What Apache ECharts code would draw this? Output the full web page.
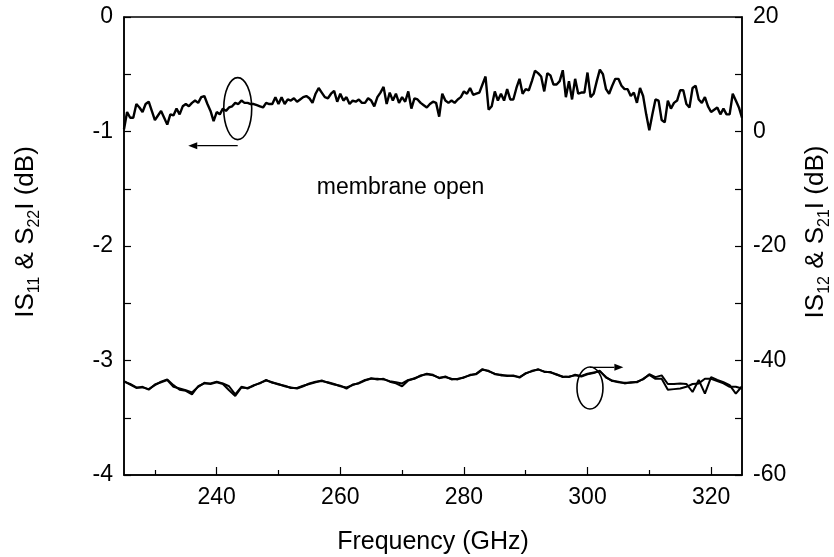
<!DOCTYPE html>
<html>
<head>
<meta charset="utf-8">
<script src="https://cdn.jsdelivr.net/npm/echarts@6/dist/echarts.min.js"></script>
<style>
  html, body { margin: 0; padding: 0; background: #fff; }
  #chart { width: 834px; height: 557px; }
</style>
</head>
<body>
<div id="chart"></div>
<script>
  // frequency grids (GHz)
  var freqFine = [
    225,225.5,226,226.5,227,227.5,228,228.5,229,229.5,
    230,230.5,231,231.5,232,232.5,233,233.5,234,234.5,
    235,235.5,236,236.5,237,237.5,238,238.5,239,239.5,
    240,240.5,241,241.5,242,242.5,243,243.5,244,244.5,
    245,245.5,246,246.5,247,247.5,248,248.5,249,249.5,
    250,250.5,251,251.5,252,252.5,253,253.5,254,254.5,
    255,255.5,256,256.5,257,257.5,258,258.5,259,259.5,
    260,260.5,261,261.5,262,262.5,263,263.5,264,264.5,
    265,265.5,266,266.5,267,267.5,268,268.5,269,269.5,
    270,270.5,271,271.5,272,272.5,273,273.5,274,274.5,
    275,275.5,276,276.5,277,277.5,278,278.5,279,279.5,
    280,280.5,281,281.5,282,282.5,283,283.5,284,284.5,
    285,285.5,286,286.5,287,287.5,288,288.5,289,289.5,
    290,290.5,291,291.5,292,292.5,293,293.5,294,294.5,
    295,295.5,296,296.5,297,297.5,298,298.5,299,299.5,
    300,300.5,301,301.5,302,302.5,303,303.5,304,304.5,
    305,305.5,306,306.5,307,307.5,308,308.5,309,309.5,
    310,310.5,311,311.5,312,312.5,313,313.5,314,314.5,
    315,315.5,316,316.5,317,317.5,318,318.5,319,319.5,
    320,320.5,321,321.5,322,322.5,323,323.5,324,324.5,
    325
  ];
  var freqCoarse = [
    225,226,227,228,229,230,231,232,233,234,
    235,236,237,238,239,240,241,242,243,244,
    245,246,247,248,249,250,251,252,253,254,
    255,256,257,258,259,260,261,262,263,264,
    265,266,267,268,269,270,271,272,273,274,
    275,276,277,278,279,280,281,282,283,284,
    285,286,287,288,289,290,291,292,293,294,
    295,296,297,298,299,300,301,302,303,304,
    305,306,307,308,309,310,311,312,313,314,
    315,316,317,318,319,320,321,322,323,324,
    325
  ];

  // |S11| & |S22| (dB), left axis
  var s11 = [
    -0.98,-0.83,-0.88,-0.88,-0.76,-0.79,-0.83,-0.76,-0.74,-0.82,
    -0.90,-0.86,-0.82,-0.88,-0.94,-0.85,-0.86,-0.80,-0.85,-0.78,
    -0.76,-0.78,-0.75,-0.73,-0.75,-0.70,-0.69,-0.76,-0.82,-0.91,
    -0.83,-0.85,-0.80,-0.82,-0.79,-0.78,-0.75,-0.76,-0.73,-0.75,
    -0.75,-0.76,-0.76,-0.77,-0.78,-0.79,-0.75,-0.76,-0.76,-0.70,
    -0.76,-0.70,-0.76,-0.72,-0.73,-0.71,-0.74,-0.72,-0.70,-0.69,
    -0.71,-0.75,-0.67,-0.62,-0.66,-0.70,-0.71,-0.67,-0.645,-0.74,
    -0.67,-0.73,-0.70,-0.76,-0.73,-0.74,-0.72,-0.75,-0.75,-0.71,
    -0.73,-0.78,-0.70,-0.66,-0.61,-0.76,-0.66,-0.73,-0.67,-0.75,
    -0.70,-0.74,-0.65,-0.80,-0.71,-0.72,-0.75,-0.77,-0.79,-0.76,
    -0.74,-0.75,-0.87,-0.67,-0.73,-0.75,-0.73,-0.75,-0.72,-0.70,
    -0.65,-0.67,-0.62,-0.68,-0.67,-0.66,-0.59,-0.52,-0.81,-0.78,
    -0.65,-0.73,-0.67,-0.73,-0.63,-0.72,-0.72,-0.62,-0.54,-0.67,
    -0.63,-0.64,-0.56,-0.47,-0.49,-0.52,-0.65,-0.49,-0.51,-0.59,
    -0.59,-0.56,-0.465,-0.70,-0.56,-0.72,-0.54,-0.67,-0.66,-0.66,
    -0.485,-0.70,-0.67,-0.56,-0.46,-0.50,-0.63,-0.67,-0.60,-0.54,
    -0.54,-0.60,-0.63,-0.63,-0.69,-0.66,-0.75,-0.62,-0.69,-0.85,
    -0.99,-0.85,-0.72,-0.73,-0.90,-0.92,-0.73,-0.80,-0.75,-0.73,
    -0.64,-0.64,-0.76,-0.79,-0.62,-0.60,-0.72,-0.75,-0.70,-0.78,
    -0.83,-0.81,-0.79,-0.85,-0.80,-0.85,-0.85,-0.67,-0.73,-0.79,
    -0.88
  ];

  // |S12| & |S21| (dB), right axis
  var s12 = [
    -43.7,-44.1,-44.7,-44.7,-45.0,-44.3,-43.7,-43.3,-44.3,-45.1,
    -45.3,-45.9,-44.5,-44.0,-44.0,-43.7,-44.0,-44.5,-45.9,-44.6,
    -44.9,-44.3,-44.0,-43.4,-43.9,-44.1,-44.5,-44.7,-44.9,-44.5,
    -44.0,-43.7,-43.6,-43.8,-44.1,-44.5,-44.7,-44.3,-43.9,-43.4,
    -43.2,-43.2,-43.3,-43.6,-43.8,-44.0,-43.4,-43.2,-42.6,-42.4,
    -42.6,-43.0,-42.9,-43.2,-43.3,-42.9,-42.6,-42.3,-41.5,-41.9,
    -42.3,-42.6,-42.6,-42.7,-42.9,-42.3,-41.8,-41.6,-41.9,-42.1,
    -42.4,-42.9,-42.8,-42.6,-42.8,-42.4,-42.2,-41.8,-43.0,-43.5,
    -43.8,-43.9,-43.9,-43.7,-43.3,-42.4,-42.9,-42.6,-44.1,-44.1,
    -44.0,-44.1,-45.5,-43.4,-45.8,-42.9,-43.4,-43.8,-44.3,-45.8,
    -44.5
  ];
  var s21 = [
    -43.6,-44.2,-44.8,-44.6,-45.1,-44.2,-43.8,-43.4,-44.6,-44.9,
    -45.2,-45.6,-44.6,-43.9,-44.1,-43.8,-44.1,-45.2,-46.2,-44.7,
    -44.8,-44.4,-43.9,-43.5,-43.8,-44.2,-44.4,-44.8,-44.8,-44.4,
    -44.1,-43.8,-43.5,-43.9,-44.2,-44.4,-44.9,-44.2,-44.0,-43.5,
    -43.1,-43.3,-43.2,-43.7,-44.0,-44.5,-43.5,-43.1,-42.7,-42.3,
    -42.5,-43.1,-42.8,-43.3,-43.2,-43.0,-42.5,-42.4,-41.6,-41.8,
    -42.4,-42.5,-42.7,-42.6,-43.0,-42.2,-41.9,-41.5,-42.0,-42.0,
    -42.5,-42.8,-42.9,-42.5,-42.7,-42.3,-42.1,-41.9,-42.9,-43.6,
    -43.7,-44.0,-43.8,-43.8,-43.2,-42.5,-43.2,-43.2,-45.1,-45.0,
    -44.9,-44.6,-44.1,-44.0,-43.2,-43.2,-43.6,-44.0,-44.6,-44.6,
    -44.9
  ];

  // tick labels
  var xTickLabels = [240, 260, 280, 300, 320];
  var xMinorTicks = [230, 250, 270, 290, 310];

  // annotations, in data units: [freq, value]
  var ellipseLeft = { c: [243.4, -0.80], rx: 14, ry: 31 };
  var arrowLeft = [[243.4, -1.124], [235.4, -1.124]];
  var ellipseRight = { c: [300.4, -44.8], rx: 13, ry: 21 };
  var arrowRight = [[300.4, -41.2], [305.8, -41.2]];
  var noteText = 'membrane open';
  var notePos = [256.2, -1.49];

  function pairs(xs, ys) {
    var out = [];
    for (var i = 0; i < xs.length; i++) out.push([xs[i], ys[i]]);
    return out;
  }

  var FONT = "'Liberation Sans', Arial, Helvetica, sans-serif";
  var chart = echarts.init(document.getElementById('chart'));

  // the y titles sit a little above the axis middle: a blank lead-in pushes them up
  var nameRich = {
    gap: { width: 28, lineHeight: 34 },
    t: { fontSize: 26, fontFamily: FONT, color: '#000', lineHeight: 34 },
    s: { fontSize: 16, fontFamily: FONT, color: '#000', lineHeight: 34, verticalAlign: 'bottom' }
  };
  var tickFont = { fontSize: 23, fontFamily: FONT, color: '#000' };

  var option = {
    animation: false,
    backgroundColor: '#fff',
    grid: {
      left: 124, right: 92, top: 17, bottom: 82,
      outerBoundsMode: 'none',
      show: true, borderColor: '#000', borderWidth: 1.5
    },
    xAxis: [
      {
        type: 'value', min: 225, max: 325,
        name: 'Frequency (GHz)', nameLocation: 'middle', nameGap: 55,
        nameTextStyle: { fontSize: 25, fontFamily: FONT, color: '#000' },
        axisLine: { show: true, onZero: false, lineStyle: { color: '#000', width: 1.5 } },
        axisTick: { show: true, inside: true, length: 8, customValues: xTickLabels,
          lineStyle: { color: '#000', width: 1.2 } },
        axisLabel: Object.assign({ customValues: xTickLabels, margin: 11 }, tickFont),
        splitLine: { show: false }
      },
      {
        type: 'value', min: 225, max: 325, position: 'bottom',
        axisLine: { show: false, onZero: false },
        axisTick: { show: true, inside: true, length: 5, customValues: xMinorTicks,
          lineStyle: { color: '#000', width: 1.2 } },
        axisLabel: { show: false },
        splitLine: { show: false }
      }
    ],
    yAxis: [
      {
        type: 'value', min: -4, max: 0, interval: 1, position: 'left',
        name: '{gap| }{t|IS}{s|11}{t| & S}{s|22}{t|I (dB)}',
        nameLocation: 'middle', nameGap: 81, nameRotate: 90,
        nameTextStyle: { rich: nameRich },
        axisLine: { show: true, onZero: false, lineStyle: { color: '#000', width: 1.5 } },
        axisTick: { show: true, inside: true, length: 7, lineStyle: { color: '#000', width: 1.2 } },
        minorTick: { show: true, splitNumber: 2, length: 7, lineStyle: { color: '#000', width: 1.2 } },
        axisLabel: Object.assign({ margin: 11 }, tickFont),
        splitLine: { show: false }
      },
      {
        type: 'value', min: -60, max: 20, interval: 20, position: 'right',
        name: '{gap| }{t|IS}{s|12}{t| & S}{s|21}{t|I (dB)}',
        nameLocation: 'middle', nameGap: 57, nameRotate: 90,
        nameTextStyle: { rich: nameRich },
        axisLine: { show: true, onZero: false, lineStyle: { color: '#000', width: 1.5 } },
        axisTick: { show: true, inside: true, length: 7, lineStyle: { color: '#000', width: 1.2 } },
        minorTick: { show: true, splitNumber: 2, length: 7, lineStyle: { color: '#000', width: 1.2 } },
        axisLabel: Object.assign({ margin: 11 }, tickFont),
        splitLine: { show: false }
      }
    ],
    series: [
      {
        name: 'S11', type: 'line', xAxisIndex: 0, yAxisIndex: 0,
        data: pairs(freqFine, s11), showSymbol: false,
        lineStyle: { color: '#000', width: 2.4 }
      },
      {
        name: 'S12', type: 'line', xAxisIndex: 0, yAxisIndex: 1,
        data: pairs(freqCoarse, s12), showSymbol: false,
        lineStyle: { color: '#000', width: 2 }
      },
      {
        name: 'S21', type: 'line', xAxisIndex: 0, yAxisIndex: 1,
        data: pairs(freqCoarse, s21), showSymbol: false,
        lineStyle: { color: '#000', width: 2 }
      }
    ]
  };
  chart.setOption(option);

  // annotations placed through the axes' own scales
  function px(yIdx, p) {
    return chart.convertToPixel({ xAxisIndex: 0, yAxisIndex: yIdx }, p);
  }
  function arrowEls(a, b) {
    var dx = b[0] - a[0], dy = b[1] - a[1];
    var len = Math.sqrt(dx * dx + dy * dy);
    var ux = dx / len, uy = dy / len;
    var bx = b[0] - ux * 9, by = b[1] - uy * 9;
    return [
      { type: 'line', shape: { x1: a[0], y1: a[1], x2: bx, y2: by },
        style: { stroke: '#000', lineWidth: 1.3 } },
      { type: 'polygon', shape: { points: [[b[0], b[1]], [bx - uy * 3.5, by + ux * 3.5], [bx + uy * 3.5, by - ux * 3.5]] },
        style: { fill: '#000' } }
    ];
  }

  var eL = px(0, ellipseLeft.c);
  var eR = px(1, ellipseRight.c);
  var g = [
    { type: 'ellipse', shape: { cx: eL[0], cy: eL[1], rx: ellipseLeft.rx, ry: ellipseLeft.ry },
      style: { fill: 'none', stroke: '#000', lineWidth: 1.6 } },
    { type: 'ellipse', shape: { cx: eR[0], cy: eR[1], rx: ellipseRight.rx, ry: ellipseRight.ry },
      style: { fill: 'none', stroke: '#000', lineWidth: 1.6 } }
  ];
  g = g.concat(arrowEls(px(0, arrowLeft[0]), px(0, arrowLeft[1])));
  g = g.concat(arrowEls(px(1, arrowRight[0]), px(1, arrowRight[1])));
  var tp = px(0, notePos);
  g.push({ type: 'text', x: tp[0], y: tp[1],
    style: { text: noteText, fontSize: 23, fontFamily: FONT, fill: '#000', verticalAlign: 'middle' } });

  chart.setOption({ graphic: g });
</script>
</body>
</html>
